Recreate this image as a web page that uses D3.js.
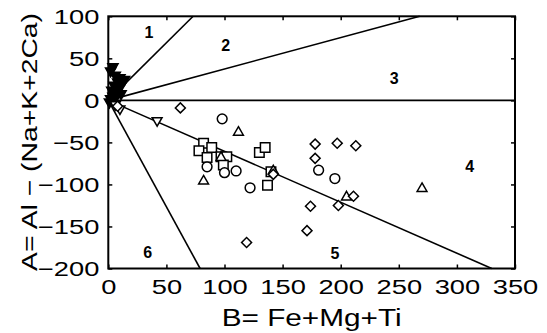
<!DOCTYPE html>
<html>
<head>
<meta charset="utf-8">
<script src="https://cdn.jsdelivr.net/npm/d3@7"></script>
<style>
  body { margin: 0; background: #fff; }
  svg { display: block; font-family: "Liberation Sans", Arial, sans-serif; }
</style>
</head>
<body>
<svg id="chart" width="547" height="333"></svg>
<script>
// data (x = Fe+Mg+Ti, y = Al - (Na+K+2Ca))
const diamonds = [
  [62, -9], [178, -52], [197, -51], [213, -54], [178, -69], [142, -88],
  [174, -126], [198, -125], [211, -114], [171, -155], [119, -169], [8, -7]
];
const circles = [
  [98, -22], [85, -79], [100, -86], [110, -84], [122, -104], [181, -83], [195, -93]
];
const squares = [
  [82, -51], [89, -56], [78, -60], [85, -68], [97, -67], [102, -67], [99, -77],
  [130, -62], [135, -56], [140, -85], [137, -101]
];
const trianglesUp = [
  [112, -38], [82, -96], [97, -68], [142, -84], [205, -115], [270, -105]
];
const trianglesDown = [[42, -24], [10, -10], [6, -5]];
const trianglesDownFilled = [
  [4, 40], [2, 35], [6, 30], [10, 27], [14, 25], [8, 22], [12, 20], [5, 18],
  [9, 15], [3, 12], [7, 10], [11, 8], [4, 5], [2, 2], [6, 3], [1, -2]
];

// sector boundaries [x1, y1, x2, y2]
const boundaries = [
  [0, 0, 73, 100],
  [0, 0, 268, 100],
  [0, 0, 350, 0],
  [0, 0, 330, -200],
  [0, 0, 79, -200]
];
const sectorNames = ["1", "2", "3", "4", "5", "6"];
const sectorAt = [[35, 81], [101, 65], [246, 26], [311, -79], [195, -182], [34, -181]];

const xTicks = [0, 50, 100, 150, 200, 250, 300, 350];
const yTicks = [-200, -150, -100, -50, 0, 50, 100];

const svg = d3.select("#chart");
const x = d3.scaleLinear().domain([0, 350]).range([108.3, 515]);
const y = d3.scaleLinear().domain([-200, 100]).range([268.5, 16.3]);
const plotL = x(0), plotR = x(350), plotT = y(100), plotB = y(-200);
const stretch = 1.3;

// axes with inward ticks
const gx = svg.append("g").attr("transform", `translate(0,${plotB})`)
  .call(d3.axisBottom(x).tickValues(xTicks).tickSizeInner(-4).tickSizeOuter(0));
gx.selectAll("text")
  .attr("dy", "0.71em").attr("y", 11)
  .attr("transform", `scale(${stretch},1)`);

const gy = svg.append("g").attr("transform", `translate(${plotL},0)`)
  .call(d3.axisLeft(y).tickValues(yTicks).tickSizeInner(-4).tickSizeOuter(0)
    .tickFormat(d => d < 0 ? "\u2212" + Math.abs(d) : d));
gy.selectAll("text")
  .attr("x", -9 / stretch)
  .attr("transform", `scale(${stretch},1)`);

svg.append("g").attr("transform", `translate(0,${plotT})`)
  .call(d3.axisTop(x).tickValues(xTicks).tickSizeInner(-4).tickSizeOuter(0).tickFormat(""));
svg.append("g").attr("transform", `translate(${plotR},0)`)
  .call(d3.axisRight(y).tickValues(yTicks).tickSizeInner(-4).tickSizeOuter(0).tickFormat(""));

svg.selectAll(".domain").remove();
svg.selectAll(".tick line").attr("stroke", "#000").attr("stroke-width", 1.5);
svg.selectAll(".tick text").attr("font-size", 21).attr("fill", "#000")
  .attr("font-family", "'Liberation Sans', Arial, sans-serif");

// sector lines
svg.append("g").selectAll("line").data(boundaries).join("line")
  .attr("x1", d => x(d[0])).attr("y1", d => y(d[1]))
  .attr("x2", d => x(d[2])).attr("y2", d => y(d[3]))
  .attr("stroke", "#000").attr("stroke-width", 1.6);

// frame
svg.append("rect")
  .attr("x", plotL).attr("y", plotT)
  .attr("width", plotR - plotL).attr("height", plotB - plotT)
  .attr("fill", "none").attr("stroke", "#000").attr("stroke-width", 2);

// sector numbers
svg.append("g").selectAll("text").data(sectorAt).join("text")
  .attr("x", d => x(d[0])).attr("y", d => y(d[1]))
  .attr("text-anchor", "middle").attr("dy", "0.35em")
  .attr("font-size", 16).attr("font-weight", "bold")
  .text((d, i) => sectorNames[i]);

// markers
function drawMarkers(data, type, size, rotate, fill) {
  svg.append("g").selectAll("path").data(data).join("path")
    .attr("d", d3.symbol().type(type).size(size))
    .attr("transform", d => `translate(${x(d[0])},${y(d[1])}) rotate(${rotate})`)
    .attr("fill", fill).attr("stroke", "#000").attr("stroke-width", 1.5);
}
drawMarkers(trianglesDownFilled, d3.symbolTriangle, 45, 180, "#000");
drawMarkers(squares, d3.symbolSquare, 90, 0, "#fff");
drawMarkers(circles, d3.symbolCircle, 75, 0, "#fff");
drawMarkers(trianglesUp, d3.symbolTriangle, 42, 0, "#fff");
drawMarkers(trianglesDown, d3.symbolTriangle, 42, 180, "#fff");
drawMarkers(diamonds, d3.symbolSquare, 50, 45, "#fff");

// axis titles
svg.append("text")
  .attr("x", (plotL + plotR) / 2).attr("y", 326)
  .attr("text-anchor", "middle").attr("font-size", 23)
  .attr("textLength", 180).attr("lengthAdjust", "spacingAndGlyphs")
  .text("B= Fe+Mg+Ti");

svg.append("text")
  .attr("transform", "translate(37,142) rotate(-90)")
  .attr("text-anchor", "middle").attr("font-size", 22)
  .attr("textLength", 258).attr("lengthAdjust", "spacingAndGlyphs")
  .text("A= Al \u2212 (Na+K+2Ca)");
</script>
</body>
</html>
